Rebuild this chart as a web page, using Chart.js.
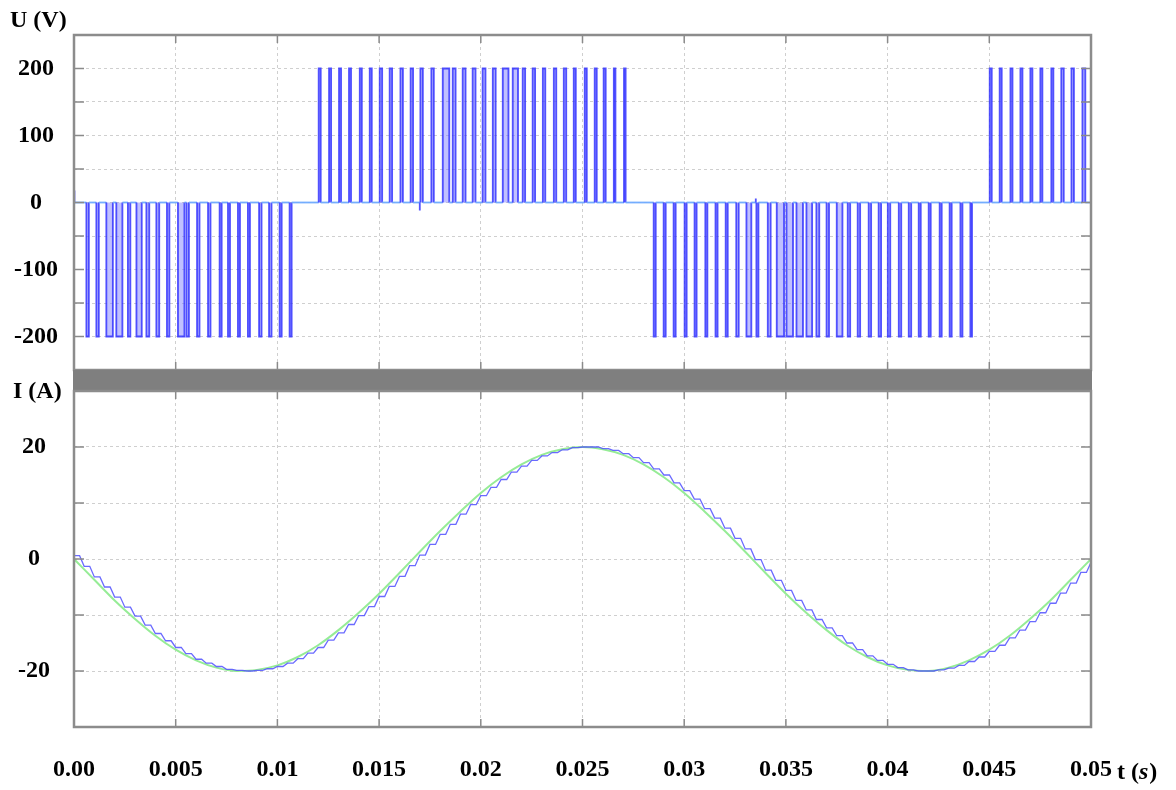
<!DOCTYPE html>
<html><head><meta charset="utf-8">
<script src="https://cdn.jsdelivr.net/npm/chart.js@4.4.0/dist/chart.umd.min.js"></script>
<style>
html,body{margin:0;padding:0;background:#fff;}
#wrap{position:relative;width:1176px;height:790px;overflow:hidden;background:#fff;}
#c1{position:absolute;left:0;top:0;width:1176px;height:372px;}
#c2{position:absolute;left:0;top:370px;width:1176px;height:420px;}
</style></head><body>
<div id="wrap"><canvas id="c1" width="1176" height="372"></canvas><canvas id="c2" width="1176" height="420"></canvas></div>
<script>
// ---------- tick labels ----------
const tTickLabels = ['0.00','0.005','0.01','0.015','0.02','0.025','0.03','0.035','0.04','0.045','0.05'];
const uTickLabels = [200, 100, 0, -100, -200];
const iTickLabels = [20, 0, -20];

// ---------- voltage U (V): PWM pulses, times in ms ----------
const uSegLevel = [-200, 200, -200, 200];
const uPulseStartMs = [
  [0.61,1.10,1.59,2.08,2.65,3.07,3.56,4.05,4.57,5.11,5.53,6.05,6.59,7.16,7.57,8.06,8.55,9.10,9.59,10.11,10.60],
  [12.03,12.54,13.03,13.52,14.05,14.54,15.03,15.52,16.05,16.55,17.03,17.57,18.13,18.62,19.11,19.60,20.09,20.59,21.08,21.57,22.06,22.55,23.05,23.59,24.08,24.57,25.11,25.60,26.04,26.54,27.04],
  [28.50,28.99,29.48,30.02,30.51,31.04,31.54,32.04,32.56,33.06,33.55,34.11,34.55,35.03,35.52,36.01,36.50,37.00,37.50,38.04,38.53,39.07,39.56,40.01,40.55,41.04,41.53,42.02,42.56,43.05,43.58,44.07],
  [45.02,45.51,46.04,46.53,47.02,47.51,48.05,48.54,49.04,49.58]
];
const uPulseWidthMs = [
  [0.12,0.12,0.32,0.30,0.12,0.26,0.14,0.14,0.12,0.32,0.12,0.12,0.12,0.10,0.10,0.10,0.10,0.12,0.12,0.10,0.10],
  [0.10,0.10,0.10,0.10,0.10,0.10,0.12,0.12,0.12,0.12,0.12,0.12,0.32,0.14,0.14,0.14,0.14,0.14,0.28,0.26,0.12,0.12,0.12,0.12,0.12,0.10,0.10,0.10,0.10,0.08,0.08],
  [0.10,0.10,0.10,0.10,0.10,0.10,0.10,0.10,0.12,0.24,0.10,0.14,0.36,0.32,0.32,0.28,0.14,0.12,0.28,0.12,0.12,0.12,0.12,0.12,0.12,0.12,0.10,0.10,0.10,0.10,0.10,0.08],
  [0.10,0.10,0.10,0.10,0.10,0.10,0.10,0.12,0.12,0.14]
];
const uSpikeMs = [0.02, 17.00, 33.52];
const uSpikeV  = [18, -12, 6];

// ---------- current I (A) ----------
const iBlueStepMs = 0.5;
const iBlue = [0.6,-1.3,-3.2,-5.0,-6.8,-8.6,-10.2,-11.8,-13.3,-14.6,
  -15.8,-16.9,-17.9,-18.6,-19.2,-19.7,-19.9,-20.0,-19.9,-19.6,
  -19.2,-18.6,-17.8,-16.8,-15.8,-14.5,-13.2,-11.7,-10.1,-8.5,
  -6.7,-4.9,-3.1,-1.2,0.7,2.6,4.4,6.2,8.0,9.7,
  11.3,12.8,14.2,15.5,16.6,17.6,18.4,19.0,19.5,19.9,
  20.0,20.0,19.7,19.4,18.8,18.1,17.2,16.1,15.0,13.6,
  12.2,10.7,9.0,7.3,5.5,3.7,1.8,-0.1,-2.0,-3.8,
  -5.6,-7.4,-9.1,-10.8,-12.3,-13.7,-15.0,-16.2,-17.3,-18.1,
  -18.8,-19.4,-19.8,-20.0,-20.0,-19.8,-19.5,-19.0,-18.3,-17.5,
  -16.5,-15.4,-14.1,-12.7,-11.2,-9.6,-7.9,-6.1,-4.3,-2.4,
  -0.6];
const iGreenStepMs = 1.0;
const iGreen = [0,-3.7,-7.4,-10.7,-13.7,-16.2,-18.1,-19.4,-20.0,-19.8,
  -19.0,-17.5,-15.4,-12.7,-9.6,-6.2,-2.5,1.3,5.0,8.5,
  11.8,14.6,16.9,18.6,19.6,20.0,19.6,18.6,16.9,14.6,
  11.8,8.5,5.0,1.3,-2.5,-6.2,-9.6,-12.7,-15.4,-17.5,
  -19.0,-19.8,-20.0,-19.4,-18.1,-16.2,-13.7,-10.7,-7.4,-3.7,0];

// ---------- build library tables ----------
const groups = [];
uPulseStartMs.forEach((seg, s) => seg.forEach((t0, j) => {
  const a = t0 / 1000, b = (t0 + uPulseWidthMs[s][j]) / 1000, L = uSegLevel[s];
  groups.push({t: a, pts: [{x: a, y: 0}, {x: a, y: L}, {x: b, y: L}, {x: b, y: 0}]});
}));
uSpikeMs.forEach((t0, i) => {
  const a = t0 / 1000;
  groups.push({t: a, pts: [{x: a, y: 0}, {x: a, y: uSpikeV[i]}, {x: a, y: 0}]});
});
groups.sort((p, q) => p.t - q.t);
const uPoints = [{x: 0, y: 0}];
groups.forEach(g => uPoints.push(...g.pts));
uPoints.push({x: 0.05, y: 0});

// blue current: each sample is held (plateau) then ramps to the next sample
const HOLD = 0.55;
const blueData = [];
iBlue.forEach((v, k) => {
  const t = k * iBlueStepMs / 1000;
  blueData.push({x: t, y: v});
  if (k < iBlue.length - 1) blueData.push({x: t + HOLD * iBlueStepMs / 1000, y: v});
});
const greenData = iGreen.map((v, k) => ({x: k * iGreenStepMs / 1000, y: v}));

// ---------- styling ----------
const FAMILY = "'Liberation Serif', 'Times New Roman', serif";
const tickFont = {family: FAMILY, size: 24, weight: 'bold'};
const gridCfg = {color: '#cfcfcf', lineWidth: 1, drawTicks: false};
const borderCfg = {display: false, dash: [3, 3]};

const framePlugin = {
  id: 'frame',
  beforeDraw(chart, args, o) {
    const {ctx, chartArea: a} = chart;
    if (o.bar) {
      ctx.save();
      ctx.fillStyle = '#7f7f7f';
      ctx.fillRect(a.left - 1, 0, a.right - a.left + 2, a.top - 1);
      ctx.restore();
    }
  },
  afterDatasetsDraw(chart, args, o) {
    const {ctx, chartArea: a, scales} = chart;
    ctx.save();
    ctx.strokeStyle = '#8a8a8a';
    ctx.lineWidth = 1.5;
    ctx.beginPath();
    scales.x.ticks.forEach(t => {
      const px = scales.x.getPixelForValue(t.value);
      ctx.moveTo(px, a.top); ctx.lineTo(px, a.top + 8);
      ctx.moveTo(px, a.bottom); ctx.lineTo(px, a.bottom - 8);
    });
    scales.y.ticks.forEach(t => {
      const py = scales.y.getPixelForValue(t.value);
      ctx.moveTo(a.left, py); ctx.lineTo(a.left + 10, py);
      ctx.moveTo(a.right, py); ctx.lineTo(a.right - 10, py);
    });
    ctx.stroke();
    ctx.strokeStyle = '#8c8c8c';
    ctx.lineWidth = 2.5;
    ctx.strokeRect(a.left, a.top, a.right - a.left, a.bottom - a.top);
    // axis titles
    ctx.fillStyle = '#000';
    ctx.textBaseline = 'middle';
    ctx.textAlign = 'left';
    ctx.font = 'bold 24px ' + FAMILY;
    ctx.fillText(o.yTitle, o.yTitleX, o.yTitleY);
    if (o.xTitle) {
      let x = o.xTitleX;
      const y = o.xTitleY;
      ctx.font = 'bold 24px ' + FAMILY;
      ctx.fillText('t (', x, y); x += ctx.measureText('t (').width;
      ctx.font = 'italic bold 24px ' + FAMILY;
      ctx.fillText('s', x, y); x += ctx.measureText('s').width + 1;
      ctx.font = 'bold 24px ' + FAMILY;
      ctx.fillText(')', x, y);
    }
    ctx.restore();
  }
};

const xScale = (showLabels) => ({
  type: 'linear', min: 0, max: 0.05,
  grid: gridCfg, border: borderCfg,
  ticks: {
    stepSize: 0.005, display: showLabels, autoSkip: false, maxRotation: 0,
    font: tickFont, color: '#000', padding: 28,
    callback: (v, i) => tTickLabels[i] ?? ''
  },
  afterFit: s => { s.height = showLabels ? 63 : 0; s.paddingLeft = 0; s.paddingRight = 0; }
});
const yFit = s => { s.width = 74; s.paddingTop = 0; s.paddingBottom = 0; };

// ---------- top chart: U (V) ----------
new Chart(document.getElementById('c1'), {
  type: 'line',
  data: {datasets: [{
    data: uPoints,
    borderColor: 'rgba(40,40,255,0.8)',
    backgroundColor: 'rgba(130,130,255,0.5)',
    borderWidth: 1.8, pointRadius: 0, tension: 0, fill: 'origin',
    segment: {
      borderColor: c => (c.p0.parsed.y === 0 && c.p1.parsed.y === 0) ? 'rgba(110,170,255,0.95)' : undefined
    }
  }]},
  options: {
    responsive: false, animation: false, events: [],
    layout: {padding: {top: 35, right: 85, bottom: 2, left: 0}},
    plugins: {
      legend: {display: false}, tooltip: {enabled: false},
      frame: {yTitle: 'U (V)', yTitleX: 10, yTitleY: 21}
    },
    scales: {
      x: xScale(false),
      y: {
        min: -250, max: 250,
        grid: gridCfg, border: borderCfg,
        ticks: {stepSize: 50, autoSkip: false, font: tickFont, color: '#000', crossAlign: 'center', padding: 16,
          callback: v => uTickLabels.includes(v) ? String(v) : ''},
        afterFit: yFit
      }
    }
  },
  plugins: [framePlugin]
});

// ---------- bottom chart: I (A) ----------
new Chart(document.getElementById('c2'), {
  type: 'line',
  data: {datasets: [
    {data: blueData, borderColor: 'rgba(80,80,255,0.85)', borderWidth: 1.3, pointRadius: 0, tension: 0, fill: false},
    {data: greenData, borderColor: 'rgb(150,236,150)', borderWidth: 2, pointRadius: 0, tension: 0.4, cubicInterpolationMode: 'monotone', fill: false}
  ]},
  options: {
    responsive: false, animation: false, events: [],
    layout: {padding: {top: 21, right: 85, bottom: 0, left: 0}},
    plugins: {
      legend: {display: false}, tooltip: {enabled: false},
      frame: {bar: true, yTitle: 'I (A)', yTitleX: 13, yTitleY: 22, xTitle: true, xTitleX: 1117, xTitleY: 403}
    },
    scales: {
      x: xScale(true),
      y: {
        min: -30, max: 30,
        grid: gridCfg, border: borderCfg,
        ticks: {stepSize: 10, autoSkip: false, font: tickFont, color: '#000', crossAlign: 'center', padding: 24,
          callback: v => iTickLabels.includes(v) ? String(v) : ''},
        afterFit: yFit
      }
    }
  },
  plugins: [framePlugin]
});
</script>
</body></html>
